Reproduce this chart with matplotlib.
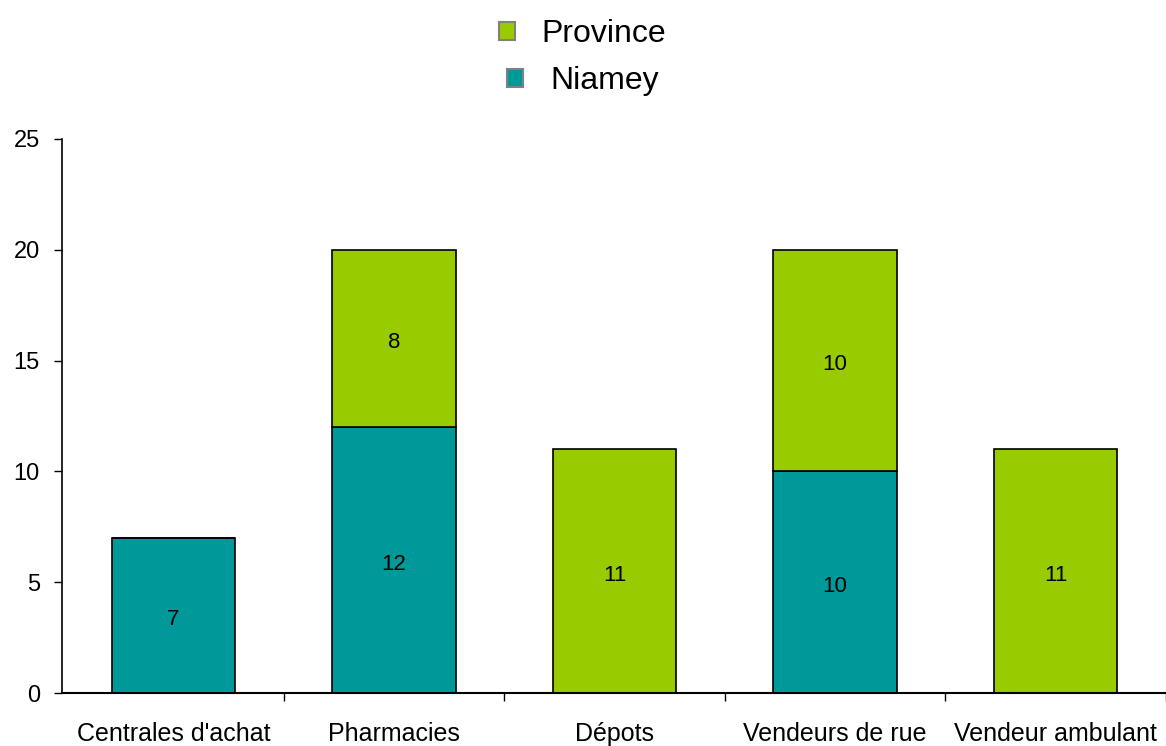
import numpy as np
import matplotlib.pyplot as plt
from matplotlib.patches import Patch

plt.rcParams['font.family'] = ['Liberation Sans', 'DejaVu Sans']

categories = ["Centrales d'achat", "Pharmacies", "Dépots", "Vendeurs de rue", "Vendeur ambulant"]
niamey = [7, 12, 0, 10, 0]
province = [0, 8, 11, 10, 11]

teal = '#009999'
green = '#99cc00'

fig = plt.figure(figsize=(11.66, 7.46), dpi=100)
ax = fig.add_axes([62 / 1166, 53 / 746, 1104 / 1166, 554 / 746])

x = np.arange(len(categories))
w = 0.56
ax.bar(x, niamey, w, color=teal, edgecolor='black', linewidth=1.2)
ax.bar(x, province, w, bottom=niamey, color=green, edgecolor='black', linewidth=1.2)

for i in range(len(categories)):
    if niamey[i] > 0:
        ax.annotate(str(niamey[i]), (x[i], niamey[i] / 2), xytext=(0, -3), textcoords='offset points',
                    ha='center', va='center', fontsize=16)
    if province[i] > 0:
        ax.annotate(str(province[i]), (x[i], niamey[i] + province[i] / 2), xytext=(0, -3),
                    textcoords='offset points', ha='center', va='center', fontsize=16)

ax.set_xlim(-0.505, -0.505 + 1104 / 222)
ax.set_ylim(0, 25)
ax.set_yticks([0, 5, 10, 15, 20, 25])
ax.tick_params(axis='y', labelsize=17, length=6, width=1, direction='out', pad=10)
ax.set_xticks(x)
ax.set_xticklabels(categories, fontsize=18)
ax.set_xticks(np.arange(len(categories)) + 0.5, minor=True)
ax.tick_params(axis='x', which='major', length=0, pad=21)
ax.tick_params(axis='x', which='minor', length=6, width=1, direction='out')
for s in ['top', 'right']:
    ax.spines[s].set_visible(False)
ax.spines['left'].set_linewidth(1.2)
ax.spines['bottom'].set_linewidth(1.5)

# legend rows are centred one by one, as in the reference
h_prov = Patch(facecolor=green, edgecolor='gray', linewidth=1.5, label='Province')
h_nia = Patch(facecolor=teal, edgecolor='gray', linewidth=1.5, label='Niamey')
fig.legend(handles=[h_prov], loc='center', bbox_to_anchor=(0.4995, 1 - 34 / 746), frameon=False,
           fontsize=23, handlelength=0.5, handleheight=0.5, handletextpad=0.85, borderpad=0)
fig.legend(handles=[h_nia], loc='center', bbox_to_anchor=(0.5, 1 - 81 / 746), frameon=False,
           fontsize=23, handlelength=0.5, handleheight=0.5, handletextpad=0.85, borderpad=0)

plt.savefig('out.png', dpi=100)
